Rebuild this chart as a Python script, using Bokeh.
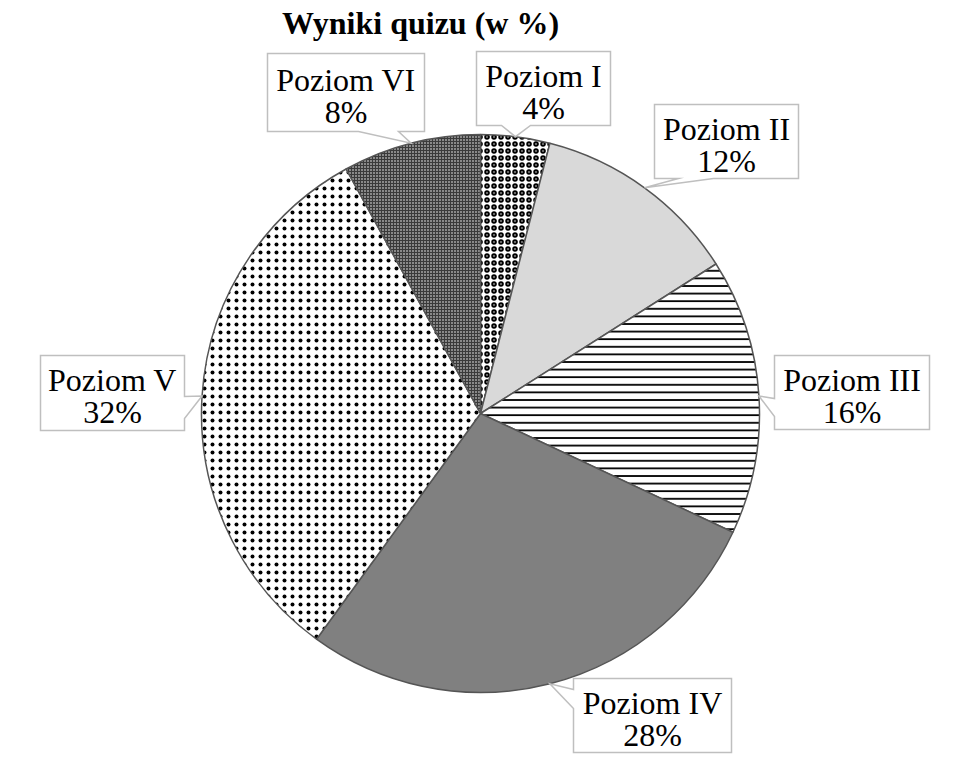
import numpy as np
from bokeh.plotting import figure
from bokeh.models import Range1d, ColumnDataSource
from bokeh.core.properties import value
from bokeh.embed import file_html
from bokeh.resources import INLINE

# ---------------- data ----------------
title_text = "Wyniki quizu (w %)"
categories = ["Poziom I", "Poziom II", "Poziom III", "Poziom IV", "Poziom V", "Poziom VI"]
values = [4, 12, 16, 28, 32, 8]

# ---------------- styles ----------------
fills = ["white", "#d9d9d9", "white", "#808080", "white", "#3a3a3a"]
hatches = ["ring", " ", "horizontal_line", " ", "dot", "dot"]
hatch_colors = ["black", "black", "black", "black", "black", "white"]
hatch_scales = [7, 1, 7.6, 1, 8, 3]
hatch_weights = [2.0, 1, 1.8, 1, 0.6, 0.8]

# ---------------- layout (pixels from top-left of the page) ----------------
W, H = 960, 766
PIE_X, PIE_Y = 480, 413          # pie centre
PIE_R = 279
# label boxes: left, top, width, height
boxes = [(476, 51, 134, 74), (654, 104, 144, 74), (774, 355, 155, 74),
         (573, 678, 158, 74), (40, 355, 144, 75), (267, 53, 157, 78)]
# callout pointer: side of the box and base span along that side
pointers = [("bottom", 25, 54), ("bottom", 24, 59), ("left", 43, 61),
            ("left", 11, 30), ("right", 41, 63), ("bottom", 91, 131)]
TITLE_POS = (420, 33)
LINE1_DY, LINE2_DY = -13, 19     # text baselines relative to box centre
FONT = "Liberation Serif"
FONT_SIZE = "32px"


def X(px):
    return px


def Y(py):
    return H - py


p = figure(width=W, height=H, output_backend="svg", toolbar_location=None,
           x_range=Range1d(0, W), y_range=Range1d(0, H),
           x_axis_type=None, y_axis_type=None, min_border=0)
p.grid.visible = False
p.outline_line_color = None
p.background_fill_color = "white"
p.border_fill_color = "white"

vals = np.array(values, dtype=float)
frac = vals / vals.sum()
cum = np.concatenate([[0], np.cumsum(frac)])
starts = np.pi / 2 - 2 * np.pi * cum[:-1]
ends = np.pi / 2 - 2 * np.pi * cum[1:]
mids = (starts + ends) / 2

cx, cy = X(PIE_X), Y(PIE_Y)
for i in range(len(values)):
    src = ColumnDataSource(dict(x=[cx], y=[cy], s=[starts[i]], e=[ends[i]]))
    p.wedge(x="x", y="y", radius=PIE_R, start_angle="s", end_angle="e",
            direction="clock", source=src,
            fill_color=fills[i], line_color="#555555", line_width=1.5,
            hatch_pattern=hatches[i], hatch_color=hatch_colors[i],
            hatch_scale=hatch_scales[i], hatch_weight=hatch_weights[i])

# callouts
xs, ys = [], []
t1x, t1y, t2y, t1, t2 = [], [], [], [], []
for i in range(len(values)):
    l, t, w, h = boxes[i]
    r, b = l + w, t + h
    tipx = cx + PIE_R * np.cos(mids[i])
    tipy = cy + PIE_R * np.sin(mids[i])
    side, a0, a1 = pointers[i]
    if side == "bottom":
        pts = [(l, t), (r, t), (r, b), (l + a1, b), None, (l + a0, b), (l, b)]
    elif side == "left":
        pts = [(l, t), (r, t), (r, b), (l, b), (l, t + a1), None, (l, t + a0)]
    elif side == "right":
        pts = [(l, t), (r, t), (r, t + a0), None, (r, t + a1), (r, b), (l, b)]
    else:
        pts = [(l, t), (l + a0, t), None, (l + a1, t), (r, t), (r, b), (l, b)]
    px_, py_ = [], []
    for q in pts:
        if q is None:
            px_.append(tipx)
            py_.append(tipy)
        else:
            px_.append(X(q[0]))
            py_.append(Y(q[1]))
    xs.append(px_)
    ys.append(py_)
    mcx = X(l + w / 2)
    mcy = t + h / 2
    t1x.append(mcx)
    t1y.append(Y(mcy + LINE1_DY))
    t2y.append(Y(mcy + LINE2_DY))
    t1.append(categories[i])
    t2.append(f"{values[i]}%")

p.patches(xs=xs, ys=ys, fill_color="white", line_color="#bfbfbf", line_width=1.5,
          line_join="miter")

p.text(x=t1x, y=t1y, text=t1, text_align="center", text_baseline="alphabetic",
       text_font=value(FONT), text_font_size=FONT_SIZE, text_color="black")
p.text(x=t1x, y=t2y, text=t2, text_align="center", text_baseline="alphabetic",
       text_font=value(FONT), text_font_size=FONT_SIZE, text_color="black")

p.text(x=[X(TITLE_POS[0])], y=[Y(TITLE_POS[1] - 11)], text=[title_text], text_align="center",
       text_baseline="alphabetic", text_font=value(FONT), text_font_size=FONT_SIZE,
       text_font_style="bold", text_color="black")

open("out.html", "w").write(file_html(p, INLINE))
